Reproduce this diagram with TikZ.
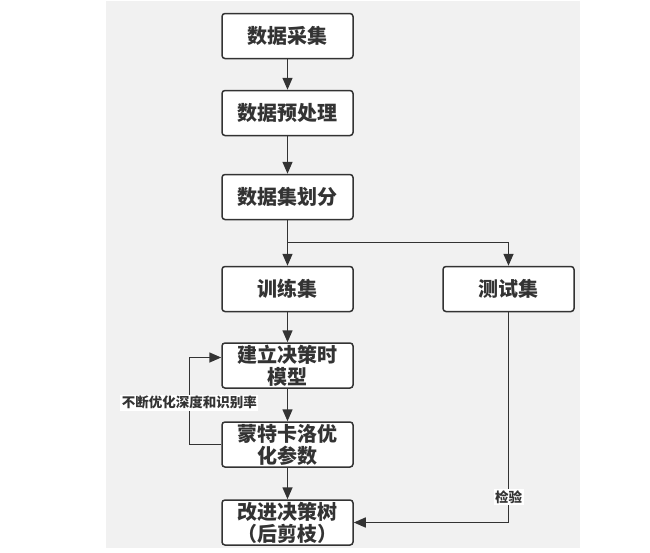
\documentclass[tikz,border=0pt]{standalone}
\usepackage{fontspec}
\usetikzlibrary{arrows.meta}
\newfontfamily\cjk{Noto Sans CJK SC}
\definecolor{linegray}{HTML}{333333}
\definecolor{bggray}{HTML}{F1F1F1}

\begin{document}
\begin{tikzpicture}[x=1pt,y=1pt,>={Triangle[width=10pt,length=12pt]},node distance=78pt,
  line width=1.5pt,draw=linegray,
  proc node/.style={draw=linegray,fill=white,rounded corners=3pt,minimum width=131pt,minimum height=45pt,
    inner xsep=2pt,inner ysep=0pt,align=center,text=linegray,font=\cjk\bfseries\fontsize{20}{22}\selectfont},
  edge label/.style={fill=white,inner sep=1.5pt,text=linegray,font=\cjk\bfseries\fontsize{13.5}{15}\selectfont}]

    \useasboundingbox (0,0) rectangle (650,-552);
    \fill[bggray] (106,-1) rectangle (580,-548);

    \node[proc node] (collect) at (287.5,-36) {数据采集};
    \node[proc node] (prep) [below of=collect, node distance=77pt] {数据预处理};
    \node[proc node] (split) [below of=prep, node distance=84pt] {数据集划分};
    \node[proc node] (train) [below of=split, node distance=92pt] {训练集};
    \node[proc node] (test) [right of=train, node distance=221pt] {测试集};
    \node[proc node] (model) [below of=train, node distance=76.5pt] {建立决策时\\模型};
    \node[proc node] (mc) [below of=model, node distance=79pt] {蒙特卡洛优\\化参数};
    \node[proc node] (prune) [below of=mc] {改进决策树\\（后剪枝）};

    \draw[->,linegray] (collect) -- (prep);
    \draw[->,linegray] (prep) -- (split);
    \draw[->,linegray] (split) -- (train);
    \draw[->,linegray] (split.south) -- ++(0,-22) -| (test.north);
    \draw[->,linegray] (train) -- (model);
    \draw[->,linegray] (model) -- (mc);
    \draw[->,linegray] (mc) -- (prune);
    \draw[->,linegray] (mc.west) -- ++(-32,0) |- ([yshift=8pt]model.west)
        node[pos=0.24,edge label] {不断优化深度和识别率};
    \draw[->,linegray] (test) |- (prune) node[pos=0.44,edge label] {检验};
\end{tikzpicture}
\end{document}
